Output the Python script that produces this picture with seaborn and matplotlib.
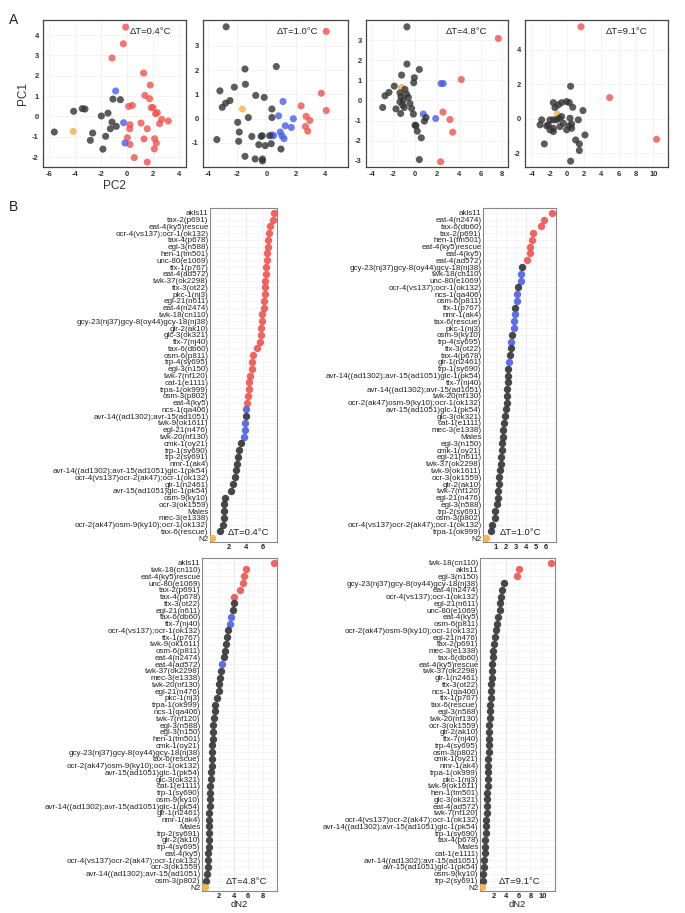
import pandas as pd
import matplotlib
matplotlib.use('Agg')
import matplotlib.pyplot as plt
import seaborn as sns

sns.set_theme(style='white')
plt.rcParams['font.family'] = ['Liberation Sans', 'DejaVu Sans']

palette = {'up': '#ef524d', 'mid': '#4a5ee8', 'none': '#333333', 'N2': '#f3b044'}
code = {'r': 'up', 'b': 'mid', 'k': 'none', 'o': 'N2'}

# ---------------- Panel A: PCA scatter per temperature step ----------------
a04_pc2 = [-0.10, -0.28, -1.15, 1.28, 1.79, 1.38, 1.74, 1.87, 2.0, 0.13, 0.41, 2.33, 2.2, 2.67,
           3.18, 2.51, 0.23, 0.21, 1.08, 1.56, 0.03, 0.23, 1.31, 2.13, 2.26, 2.1, 0.56, 1.56,
           -0.87, -0.26, -0.15,
           -4.13,
           -5.59, -4.1, -3.44, -3.23, -1.97, -1.46, -1.08, -0.51, -1.15, -1.28, -0.82, -1.64,
           -2.64, -2.82, -1.85]
a04_pc1 = [4.39, 3.57, 2.87, 2.13, 1.54, 1.03, 0.87, 0.43, 0.43, 0.49, 0.54, 0.18, 0.13, -0.15,
           -0.23, -0.36, -0.41, -0.61, -0.33, -0.61, -1.05, -1.38, -1.11, -1.1, -1.31, -1.6, -2.03, -2.25,
           1.25, -0.31, -1.31,
           -0.74,
           -0.77, 0.25, 0.38, 0.36, 0.02, 0.16, 0.85, 0.82, -0.28, -0.61, -0.49, -0.98,
           -0.82, -1.18, -1.61]
a04_grp = ['up'] * 28 + ['mid'] * 3 + ['N2'] + ['none'] * 15

a10_pc2 = [4.11, 3.77, 4.11, 2.38, 2.73, 2.98, 2.68, 2.84,
           1.14, 0.84, 1.85, 1.3, 1.71, 0.95, 1.07, 1.21, 0.38, 0.49,
           -1.65,
           -2.76, -1.47, 0.68, -3.19, -2.2, -1.44, -2.5, -2.8, -3.03, -0.73, -0.15, 0.38, -1.24, 0.38,
           -1.97, -1.86, -3.4, -1.9, -1.0, -0.36, -0.29, 0.22, -0.52, -0.08, 0.33, 1.0, -1.47, -0.77,
           -0.27, -0.27]
a10_pc1 = [3.6, 1.05, 0.34, 0.53, 0.1, -0.07, -0.32, -0.51,
           0.71, 0.12, 0.0, -0.29, -0.36, -0.55, -0.7, -0.82, -0.67, -0.7,
           0.4,
           3.79, 2.05, 2.15, 1.15, 1.3, 1.42, 0.75, 0.64, 0.47, 0.96, 0.88, 0.4, 0.05, 0.05,
           -0.15, -0.55, -0.86, -0.93, -0.73, -0.73, -0.7, -0.7, -1.07, -1.11, -1.03, -1.25, -1.55, -1.66,
           -1.74, -1.66]
a10_grp = ['up'] * 8 + ['mid'] * 10 + ['N2'] + ['none'] * 30

a48_pc2 = [7.63, 4.23, 2.55, 3.19, 3.44, 2.34,
           2.37, 2.58, 0.74, 1.88,
           -1.25,
           -0.76, -0.76, -1.25, 0.38, -0.08, -0.14, -1.92, -2.41, -2.78, -2.99,
           -1.77, -1.34, -1.4, -1.31, -1.09, -0.94, -0.63, -0.48, -0.33, -0.17,
           -1.0, -1.15, -1.4, -0.79, 0.07, -0.02, 0.19, 0.56, 0.99, 0.84, 0.38]
a48_pc1 = [3.08, 1.04, -0.58, -0.95, -1.58, -3.05,
           0.84, 0.84, -0.68, -0.9,
           0.65,
           3.66, 1.81, 1.26, 1.54, 1.13, 0.88, 0.71, 0.4, 0.23, -0.35,
           -0.42, -0.65, 0.38, 0.18, 0.02, 0.55, 0.15, -0.15, -0.4, -0.68,
           -0.35, -0.23, -0.07, 0.31, -1.26, -1.23, -1.53, -1.86, -0.85, -1.03, -2.94]
a48_grp = ['up'] * 6 + ['mid'] * 4 + ['N2'] + ['none'] * 31

a91_pc2 = [1.63, 4.95, 10.38,
           -1.11,
           0.43, -2.61, 0.43, 2.09, 1.44, 1.01, 1.44, 1.86, 1.32, 0.67,
           -1.57, -0.61, -0.03, 0.28, -0.99, -1.38, -1.96, -2.15, -1.57, -0.8,
           -0.41, -0.61, 0.36, 0.55, 0.28, 0.55, -0.03, -1.57, -1.18, -0.88,
           -2.34, -1.96, -3.11, -1.57, -2.92]
a91_pc1 = [5.35, 1.23, -1.19,
           0.26,
           1.89, -1.46, -2.46, -0.94, -1.46, -1.23, -1.84, 0.48, -0.06, 0.67,
           0.94, 0.94, 1.0, 0.94, 0.81, 0.65, -0.06, -0.35, -0.55, -0.45,
           -0.26, 0.13, 0.03, -0.3, -0.41, -0.55, -0.64, -0.06, -0.06, 0.03,
           -0.41, -0.64, -0.35, -0.74, -0.06]
a91_grp = ['up'] * 3 + ['N2'] + ['none'] * 35

# ---------------- Panel B: ranked dN2 per strain ----------------
b04_strain = ['akls11', 'tax-2(p691)', 'eat-4(ky5)rescue', 'ocr-4(vs137);ocr-1(ok132)', 'tax-4(p678)',
              'egl-3(n588)', 'hen-1(tm501)', 'unc-80(e1069)', 'ttx-1(p767)', 'eat-4(ad572)',
              'twk-37(ok2298)', 'ttx-3(ot22)', 'pkc-1(nj3)', 'egl-21(n611)', 'eat-4(n2474)',
              'twk-18(cn110)', 'gcy-23(nj37)gcy-8(oy44)gcy-18(nj38)', 'glr-2(ak10)', 'glc-3(ok321)',
              'ttx-7(nj40)', 'tax-6(db60)', 'osm-6(p811)', 'trp-4(sy695)', 'egl-3(n150)', 'twk-7(nf120)',
              'cat-1(e1111)', 'trpa-1(ok999)', 'osm-3(p802)', 'eat-4(ky5)', 'ncs-1(qa406)',
              'avr-14((ad1302);avr-15(ad1051)', 'twk-9(ok1611)', 'egl-21(n476)', 'twk-20(nf130)',
              'cmk-1(oy21)', 'trp-1(sy690)', 'trp-2(sy691)', 'nmr-1(ak4)',
              'avr-14((ad1302);avr-15(ad1051)glc-1(pk54)', 'ocr-4(vs137)ocr-2(ak47);ocr-1(ok132)',
              'glr-1(n2461)', 'avr-15(ad1051)glc-1(pk54)', 'osm-9(ky10)', 'ocr-3(ok1559)', 'Males',
              'mec-3(e1338)', 'ocr-2(ak47)osm-9(ky10);ocr-1(ok132)', 'tax-6(rescue)', 'N2']
b04_dn2 = [7.28, 7.16, 6.88, 6.68, 6.6, 6.56, 6.48, 6.44, 6.36, 6.32,
           6.28, 6.24, 6.2, 6.16, 6.08, 5.92, 5.88, 5.8, 5.76, 5.68,
           5.28, 4.88, 4.76, 4.68, 4.48, 4.4, 4.36, 4.28, 4.16, 4.0,
           3.96, 3.88, 3.84, 3.76, 3.36, 3.16, 3.04, 2.96, 2.84, 2.68,
           2.44, 2.24, 1.52, 1.44, 1.4, 1.36, 1.28, 0.96, 0.0]
b04_cls = 'r' * 29 + 'bkbbb' + 'k' * 14 + 'o'

b10_strain = ['akls11', 'eat-4(n2474)', 'tax-6(db60)', 'tax-2(p691)', 'hen-1(tm501)', 'eat-4(ky5)rescue',
              'eat-4(ky5)', 'eat-4(ad572)', 'gcy-23(nj37)gcy-8(oy44)gcy-18(nj38)', 'twk-18(cn110)',
              'unc-80(e1069)', 'ocr-4(vs137);ocr-1(ok132)', 'ncs-1(qa406)', 'osm-6(p811)', 'ttx-1(p767)',
              'nmr-1(ak4)', 'tax-6(rescue)', 'pkc-1(nj3)', 'osm-9(ky10)', 'trp-4(sy695)', 'ttx-3(ot22)',
              'tax-4(p678)', 'glr-1(n2461)', 'trp-1(sy690)', 'avr-14((ad1302);avr-15(ad1051)glc-1(pk54)',
              'ttx-7(nj40)', 'avr-14((ad1302);avr-15(ad1051)', 'twk-20(nf130)',
              'ocr-2(ak47)osm-9(ky10);ocr-1(ok132)', 'avr-15(ad1051)glc-1(pk54)', 'glc-3(ok321)',
              'cat-1(e1111)', 'mec-3(e1338)', 'Males', 'egl-3(n150)', 'cmk-1(oy21)', 'egl-21(n611)',
              'twk-37(ok2298)', 'twk-9(ok1611)', 'ocr-3(ok1559)', 'glr-2(ak10)', 'twk-7(nf120)',
              'egl-21(n476)', 'egl-3(n588)', 'trp-2(sy691)', 'osm-3(p802)',
              'ocr-4(vs137)ocr-2(ak47);ocr-1(ok132)', 'trpa-1(ok999)', 'N2']
b10_dn2 = [6.6, 5.83, 5.5, 4.7, 4.63, 4.43, 4.4, 4.07, 3.63, 3.53,
           3.47, 3.2, 3.1, 3.07, 2.93, 2.9, 2.83, 2.8, 2.6, 2.5,
           2.47, 2.43, 2.33, 2.22, 2.2, 2.18, 2.15, 2.12, 2.08, 2.03,
           1.93, 1.87, 1.72, 1.68, 1.66, 1.6, 1.57, 1.5, 1.4, 1.37,
           1.33, 1.23, 1.2, 1.1, 0.97, 0.93, 0.6, 0.5, 0.0]
b10_cls = 'r' * 8 + 'kbbkbbkbbbkbkkb' + 'k' * 25 + 'o'

b48_strain = ['akls11', 'twk-18(cn110)', 'eat-4(ky5)rescue', 'unc-80(e1069)', 'tax-2(p691)', 'tax-4(p678)',
              'ttx-3(ot22)', 'egl-21(n611)', 'tax-6(db60)', 'ttx-7(nj40)', 'ocr-4(vs137);ocr-1(ok132)',
              'ttx-1(p767)', 'twk-9(ok1611)', 'osm-6(p811)', 'eat-4(n2474)', 'eat-4(ad572)',
              'twk-37(ok2298)', 'mec-3(e1338)', 'twk-20(nf130)', 'egl-21(n476)', 'pkc-1(nj3)',
              'trpa-1(ok999)', 'ncs-1(qa406)', 'twk-7(nf120)', 'egl-3(n588)', 'egl-3(n150)',
              'hen-1(tm501)', 'cmk-1(oy21)', 'gcy-23(nj37)gcy-8(oy44)gcy-18(nj38)', 'tax-6(rescue)',
              'ocr-2(ak47)osm-9(ky10);ocr-1(ok132)', 'avr-15(ad1051)glc-1(pk54)', 'glc-3(ok321)',
              'cat-1(e1111)', 'trp-1(sy690)', 'osm-9(ky10)', 'avr-14((ad1302);avr-15(ad1051)glc-1(pk54)',
              'glr-1(n2461)', 'nmr-1(ak4)', 'Males', 'trp-2(sy691)', 'glr-2(ak10)', 'trp-4(sy695)',
              'eat-4(ky5)', 'ocr-4(vs137)ocr-2(ak47);ocr-1(ok132)', 'ocr-3(ok1559)',
              'avr-14((ad1302);avr-15(ad1051)', 'osm-3(p802)', 'N2']
b48_dn2 = [9.49, 5.72, 5.4, 5.3, 4.84, 4.0, 4.0, 3.91, 3.63, 3.44,
           3.16, 3.07, 2.93, 2.84, 2.6, 2.37, 2.28, 2.14, 2.0, 1.9,
           1.67, 1.44, 1.35, 1.21, 1.16, 1.14, 1.07, 1.05, 1.02, 0.98,
           0.93, 0.84, 0.79, 0.74, 0.72, 0.7, 0.65, 0.62, 0.6, 0.56,
           0.55, 0.51, 0.5, 0.47, 0.42, 0.37, 0.28, 0.19, 0.0]
b48_cls = 'r' * 6 + 'kkbb' + 'k' * 5 + 'b' + 'k' * 32 + 'o'

b91_strain = ['twk-18(cn110)', 'akls11', 'egl-3(n150)', 'gcy-23(nj37)gcy-8(oy44)gcy-18(nj38)', 'eat-4(n2474)',
              'ocr-4(vs137);ocr-1(ok132)', 'egl-21(n611)', 'unc-80(e1069)', 'eat-4(ky5)', 'osm-6(p811)',
              'ocr-2(ak47)osm-9(ky10);ocr-1(ok132)', 'egl-21(n476)', 'tax-2(p691)', 'mec-3(e1338)',
              'tax-6(db60)', 'eat-4(ky5)rescue', 'twk-37(ok2298)', 'glr-1(n2461)', 'ttx-3(ot22)',
              'ncs-1(qa406)', 'ttx-1(p767)', 'tax-6(rescue)', 'egl-3(n588)', 'twk-20(nf130)',
              'ocr-3(ok1559)', 'glr-2(ak10)', 'ttx-7(nj40)', 'trp-4(sy695)', 'osm-3(p802)', 'cmk-1(oy21)',
              'nmr-1(ak4)', 'trpa-1(ok999)', 'pkc-1(nj3)', 'twk-9(ok1611)', 'hen-1(tm501)', 'glc-3(ok321)',
              'eat-4(ad572)', 'twk-7(nf120)', 'ocr-4(vs137)ocr-2(ak47);ocr-1(ok132)',
              'avr-14((ad1302);avr-15(ad1051)glc-1(pk54)', 'trp-1(sy690)', 'tax-4(p678)', 'Males',
              'cat-1(e1111)', 'avr-14((ad1302);avr-15(ad1051)', 'avr-15(ad1051)glc-1(pk54)',
              'osm-9(ky10)', 'trp-2(sy691)', 'N2']
b91_dn2 = [11.5, 6.1, 5.83, 3.6, 3.33, 3.1, 3.0, 2.9, 2.67, 2.5,
           2.28, 2.17, 1.9, 1.78, 1.72, 1.67, 1.61, 1.56, 1.5, 1.44,
           1.39, 1.33, 1.28, 1.22, 1.17, 1.15, 1.11, 1.06, 1.04, 1.0,
           0.98, 0.94, 0.92, 0.89, 0.83, 0.81, 0.78, 0.72, 0.67, 0.61,
           0.56, 0.5, 0.44, 0.39, 0.33, 0.22, 0.17, 0.06, 0.0]
b91_cls = 'r' * 3 + 'k' * 45 + 'o'

W, H = 685, 913


def px_axes(fig, x0, x1, y0, y1):
    return fig.add_axes([x0 / W, 1 - y1 / H, (x1 - x0) / W, (y1 - y0) / H])


def pca_panel(ax, pc2, pc1, grp, xlim, ylim, xticks, yticks, label, tx):
    df = pd.DataFrame({'PC2': pc2, 'PC1': pc1, 'grp': grp})
    sns.scatterplot(data=df, x='PC2', y='PC1', hue='grp', palette=palette, s=26,
                    alpha=0.8, linewidth=0, legend=False, ax=ax)
    ax.set_xlim(xlim)
    ax.set_ylim(ylim)
    ax.set_xticks(xticks)
    ax.set_yticks(yticks)
    ax.set_xticklabels([str(t) for t in xticks], fontsize=5.5, fontweight='bold', color='#333')
    ax.set_yticklabels([str(t) for t in yticks], fontsize=5.5, fontweight='bold', color='#333')
    ax.tick_params(length=1.5, pad=1.5, color='#555', width=0.6)
    ax.grid(True, color='#efefef', lw=0.5)
    ax.set_axisbelow(True)
    ax.set_xlabel('')
    ax.set_ylabel('')
    for sp in ax.spines.values():
        sp.set_color('#444')
        sp.set_linewidth(0.9)
    ax.text(tx, 0.92, label, transform=ax.transAxes, ha='center', va='center',
            fontsize=6.8, color='#222')


def dot_panel(ax, strain, dn2, cls, xlim, xticks, label, lx, xlabel=False):
    df = pd.DataFrame({'strain': strain, 'dN2': dn2, 'grp': [code[c] for c in cls]})
    sns.stripplot(data=df, x='dN2', y='strain', hue='grp', palette=palette, order=strain,
                  jitter=False, size=5.3, linewidth=0, alpha=0.9, legend=False, ax=ax)
    ax.set_xlim(xlim)
    ax.set_ylim(len(strain) - 0.45, -0.7)
    ax.axvline(4, color='#aaaaaa', ls=':', lw=0.7, zorder=0)
    ax.grid(True, color='#f2f2f2', lw=0.5)
    ax.set_axisbelow(True)
    ax.set_xticks(xticks)
    ax.set_xticklabels([str(t) for t in xticks], fontsize=5.4, fontweight='bold', color='#222')
    ax.tick_params(axis='x', length=0, pad=1.5)
    ax.tick_params(axis='y', length=0, pad=1, labelsize=5.8, labelcolor='#222')
    ax.set_ylabel('')
    if xlabel:
        ax.set_xlabel('dN2', fontsize=6.8, labelpad=0, color='#222')
    else:
        ax.set_xlabel('')
    for sp in ax.spines.values():
        sp.set_color('#888')
        sp.set_linewidth(0.8)
    ax.text(lx, 0.028, label, transform=ax.transAxes, ha='center', va='center',
            fontsize=6.8, color='#222')


fig = plt.figure(figsize=(W / 100, H / 100), dpi=100)

ax1 = px_axes(fig, 43, 186, 20, 167)
pca_panel(ax1, a04_pc2, a04_pc1, a04_grp, (-6.46, 4.54), (-2.49, 4.74),
          [-6, -4, -2, 0, 2, 4], [-2, -1, 0, 1, 2, 3, 4], 'ΔT=0.4°C', 0.75)
ax1.set_ylabel('PC1', fontsize=8.5, labelpad=2, color='#333')
ax1.set_xlabel('PC2', fontsize=8.5, labelpad=1, color='#333')

ax2 = px_axes(fig, 203, 348, 20, 167)
pca_panel(ax2, a10_pc2, a10_pc1, a10_grp, (-4.35, 5.6), (-1.99, 4.07),
          [-4, -2, 0, 2, 4], [-1, 0, 1, 2, 3], 'ΔT=1.0°C', 0.655)

ax3 = px_axes(fig, 366, 508, 20, 167)
pca_panel(ax3, a48_pc2, a48_pc1, a48_grp, (-4.52, 8.52), (-3.31, 4.0),
          [-4, -2, 0, 2, 4, 6, 8], [-3, -2, -1, 0, 1, 2, 3], 'ΔT=4.8°C', 0.71)

ax4 = px_axes(fig, 525, 668, 20, 167)
pca_panel(ax4, a91_pc2, a91_pc1, a91_grp, (-4.85, 11.7), (-2.8, 5.74),
          [-4, -2, 0, 2, 4, 6, 8, 10], [-2, 0, 2, 4], 'ΔT=9.1°C', 0.71)

bx1 = px_axes(fig, 210, 277, 208, 542)
dot_panel(bx1, b04_strain, b04_dn2, b04_cls, (-0.28, 7.68), [2, 4, 6], 'ΔT=0.4°C', 0.57)

bx2 = px_axes(fig, 483, 556, 208, 542)
dot_panel(bx2, b10_strain, b10_dn2, b10_cls, (-0.27, 7.0), [1, 2, 3, 4, 5, 6], 'ΔT=1.0°C', 0.51)

bx3 = px_axes(fig, 202, 277, 558, 891)
dot_panel(bx3, b48_strain, b48_dn2, b48_cls, (-0.4, 9.97), [2, 4, 6, 8], 'ΔT=4.8°C', 0.6, xlabel=True)

bx4 = px_axes(fig, 480, 555, 558, 891)
dot_panel(bx4, b91_strain, b91_dn2, b91_cls, (-0.39, 12.1), [2, 4, 6, 8, 10], 'ΔT=9.1°C', 0.53, xlabel=True)

fig.text(9 / W, 1 - 20 / H, 'A', fontsize=10, color='#222', va='center')
fig.text(9 / W, 1 - 207 / H, 'B', fontsize=10, color='#222', va='center')

fig.savefig('out.png', dpi=100)
